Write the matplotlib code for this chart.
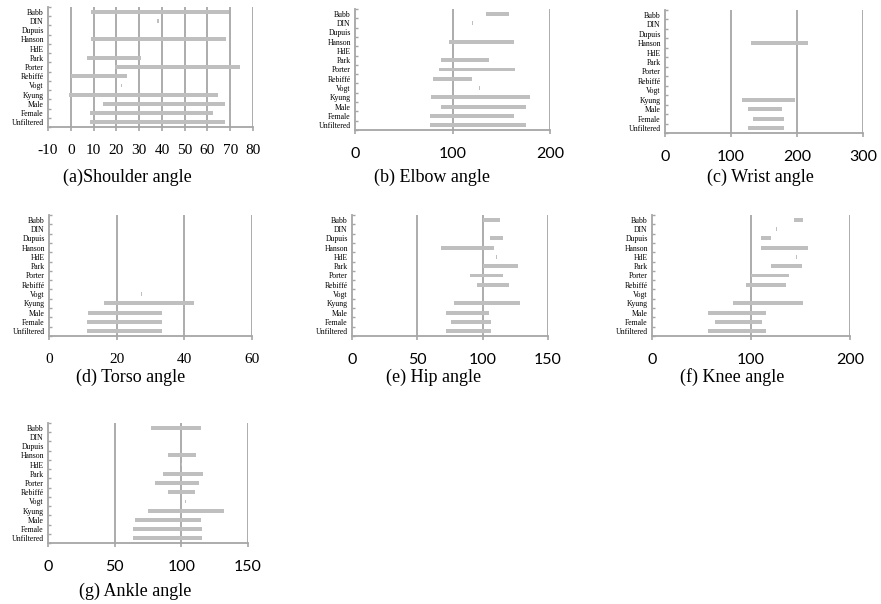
# posture angle ranges by source - 7 small panels

import matplotlib.pyplot as plt
import numpy as np

sources = ['Bubb', 'DIN', 'Dupuis', 'Hanson', 'HdE', 'Park', 'Porter',
           'Rebiffé', 'Vogt', 'Kyung', 'Male', 'Female', 'Unfiltered']

# (low, high) per source, None where the source gives no range

shoulder = [(9, 69.4), (38, 38.6), None, (9, 68), None, (7.2, 30.7), (19.3, 74.5),
            (0, 24.7), (22, 22.5), (-1, 64.7), (14, 67.8), (8.3, 62.5), (8.3, 67.8)]

elbow = [(134, 158), (120.3, 121), None, (96.6, 162.9), None, (88.7, 137), (86, 164),
         (80, 120), (127.3, 128), (78, 179), (88.5, 175), (76.6, 162.7), (76.6, 175)]

wrist = [None, None, None, (130, 216), None, None, None,
         None, None, (117, 197), (126, 178), (134, 181), (125.5, 181)]

torso = [None, None, None, None, None, None, None,
         None, (27.2, 27.6), (16.3, 43), (11.6, 33.5), (11.2, 33.5), (11.2, 33.5)]

hip = [(100.5, 113), (95.5, 96), (105.4, 115.6), (68.4, 109), (110.3, 110.8), (100.5, 127),
       (90.6, 115.3), (95.7, 120), (99.3, 99.8), (78.3, 128.3), (71.7, 104.8), (75.8, 106.4),
       (71.7, 106.4)]

knee = [(143, 152.5), (125.7, 126.3), (110.4, 120.5), (109.8, 157.6), (145.7, 146.3),
        (120.5, 151.5), (100.3, 138), (95.3, 135.7), (119.7, 120.3), (81.5, 152.5),
        (57, 115), (64, 111.5), (57, 115)]

ankle = [(77.3, 115), (89.8, 90.3), None, (90, 111), (100, 100.5), (86.3, 116), (80.3, 113.3),
         (90, 110.3), (103, 103.5), (75.3, 132), (65, 114.5), (64, 115.5), (64, 115.5)]

panels = [
    # data, title, xticks, tick font, axes box (px: left, bottom-from-top, right, top-from-top), title pos
    (shoulder, '(a)Shoulder angle', list(range(-10, 90, 10)), 'serif', (48, 127, 253, 7), (127, 177)),
    (elbow, '(b) Elbow angle', [0, 100, 200], 'sans', (355, 130, 550, 9), (432, 177)),
    (wrist, '(c) Wrist angle', [0, 100, 200, 300], 'sans', (665, 133, 863, 10), (760, 177)),
    (torso, '(d) Torso angle', [0, 20, 40, 60], 'serif', (49, 336, 252, 215), (131, 377)),
    (hip, '(e) Hip angle', [0, 50, 100, 150], 'sans', (352, 336, 548, 215), (434, 377)),
    (knee, '(f) Knee angle', [0, 100, 200], 'sans', (652, 336, 850, 215), (732, 377)),
    (ankle, '(g) Ankle angle', [0, 50, 100, 150], 'sans', (48, 543, 248, 423), (135, 591)),
]

W, H = 881, 604
fig = plt.figure(figsize=(W / 100, H / 100), dpi=100)

serif = 'Liberation Serif'
sans = 'Lato'
grid_col = '#a6a6a6'
bar_col = '#bfbfbf'

for data, title, ticks, tfont, box, tpos in panels:

    l, b, r, t = box
    ax = fig.add_axes([l / W, 1 - b / H, (r - l) / W, (b - t) / H])

    y = np.arange(len(sources))
    lows = [d[0] if d else np.nan for d in data]
    widths = [d[1] - d[0] if d else np.nan for d in data]

    ax.barh(y, widths, left=lows, height=0.42, color=bar_col, zorder=2)

    for tk in ticks[1:]:
        ax.axvline(tk, color=grid_col, lw=1.3, zorder=1)

    ax.set_xlim(ticks[0], ticks[-1])
    ax.set_ylim(len(sources) - 0.5, -0.5)

    ax.set_yticks(y)
    ax.set_yticklabels(sources, fontsize=5.6, family=serif)
    ax.set_yticks(np.arange(len(sources) + 1) - 0.5, minor=True)
    ax.tick_params(axis='y', which='major', length=0, pad=3)
    ax.tick_params(axis='y', which='minor', length=2.2, direction='in',
                   color=grid_col, width=1)

    ax.set_xticks(ticks)
    ax.set_xticklabels([str(tk) for tk in ticks],
                       fontsize=11 if tfont == 'serif' else 11.5,
                       family=serif if tfont == 'serif' else sans)
    ax.tick_params(axis='x', length=3, color=grid_col, width=1.2, pad=9)

    ax.spines['top'].set_visible(False)
    ax.spines['right'].set_visible(False)
    for s in ['left', 'bottom']:
        ax.spines[s].set_color(grid_col)
        ax.spines[s].set_linewidth(1.3)

    fig.text(tpos[0] / W, 1 - tpos[1] / H, title, fontsize=13, family=serif,
             ha='center', va='center')

plt.savefig('out.png', dpi=100)
